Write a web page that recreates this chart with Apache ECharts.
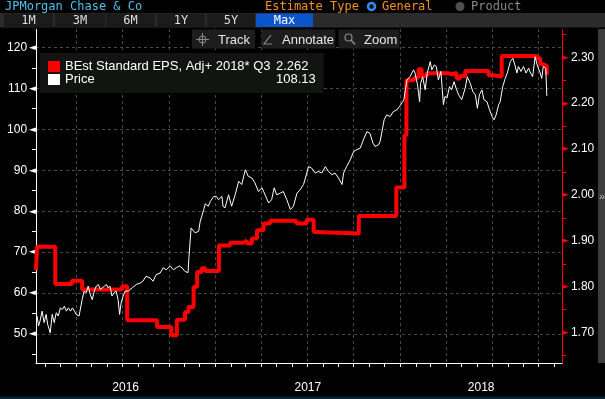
<!DOCTYPE html>
<html>
<head>
<meta charset="utf-8">
<script src="https://cdn.jsdelivr.net/npm/echarts@6/dist/echarts.min.js"></script>
<style>
html, body { margin: 0; padding: 0; background: #000; }
#chart { width: 605px; height: 399px; }
</style>
</head>
<body>
<div id="chart"></div>
<script>
// BEst EPS estimate (right axis): value holds from its date until the next change
const epsName = 'BEst Standard EPS, Adj+ 2018* Q3'
const epsSteps = [
  ['2016-01-13', 1.836], ['2016-01-15', 1.887], ['2016-02-20', 1.806], ['2016-03-24', 1.813],
  ['2016-04-13', 1.794], ['2016-07-01', 1.801], ['2016-07-11', 1.727], ['2016-09-08', 1.712],
  ['2016-10-06', 1.694], ['2016-10-17', 1.728], ['2016-11-02', 1.745], ['2016-11-09', 1.756],
  ['2016-11-19', 1.800], ['2016-11-26', 1.832], ['2016-12-05', 1.840], ['2016-12-12', 1.834],
  ['2017-01-08', 1.890], ['2017-01-30', 1.896], ['2017-02-25', 1.900], ['2017-03-04', 1.894],
  ['2017-03-14', 1.905], ['2017-03-24', 1.923], ['2017-04-06', 1.938], ['2017-04-19', 1.944],
  ['2017-06-10', 1.938], ['2017-06-30', 1.946], ['2017-07-14', 1.919], ['2017-07-19', 1.916],
  ['2017-10-11', 1.954], ['2017-12-24', 2.016], ['2018-01-09', 2.130], ['2018-01-13', 2.250],
  ['2018-01-27', 2.252], ['2018-01-30', 2.256], ['2018-02-06', 2.274], ['2018-02-12', 2.259],
  ['2018-02-22', 2.265], ['2018-04-06', 2.263], ['2018-04-13', 2.266], ['2018-04-22', 2.254],
  ['2018-04-29', 2.259], ['2018-05-09', 2.270], ['2018-06-24', 2.261], ['2018-07-03', 2.258],
  ['2018-07-20', 2.303], ['2018-09-27', 2.298], ['2018-10-04', 2.285], ['2018-10-10', 2.281],
  ['2018-10-17', 2.262],
]

// share price (left axis)
const priceName = 'Price'
const pricePoints = [
  ['2016-01-15', 54.4], ['2016-01-18', 52.0], ['2016-01-21', 53.2], ['2016-01-25', 55.6],
  ['2016-01-29', 52.8], ['2016-02-02', 54.8], ['2016-02-05', 52.4], ['2016-02-10', 50.3],
  ['2016-02-14', 54.8], ['2016-02-18', 52.8], ['2016-02-22', 55.2], ['2016-02-26', 54.4],
  ['2016-03-01', 56.4], ['2016-03-05', 56.0], ['2016-03-09', 56.8], ['2016-03-13', 55.6],
  ['2016-03-17', 56.4], ['2016-03-21', 55.6], ['2016-03-25', 56.4], ['2016-03-29', 55.6],
  ['2016-04-01', 54.8], ['2016-04-07', 54.4], ['2016-04-13', 58.4], ['2016-04-17', 60.5],
  ['2016-04-21', 60.1], ['2016-04-25', 61.7], ['2016-04-29', 59.7], ['2016-05-03', 58.4],
  ['2016-05-07', 60.5], ['2016-05-11', 61.7], ['2016-05-15', 62.1], ['2016-05-19', 60.9],
  ['2016-05-23', 61.3], ['2016-05-27', 61.7], ['2016-05-31', 62.1], ['2016-06-03', 61.3],
  ['2016-06-07', 61.7], ['2016-06-11', 59.3], ['2016-06-15', 60.1], ['2016-06-19', 60.5],
  ['2016-06-23', 58.4], ['2016-06-26', 54.8], ['2016-06-29', 57.6], ['2016-07-03', 59.3],
  ['2016-07-07', 60.5], ['2016-07-13', 60.5], ['2016-07-21', 61.3], ['2016-07-29', 62.1],
  ['2016-08-06', 62.5], ['2016-08-11', 62.9], ['2016-08-17', 64.1], ['2016-08-25', 63.7],
  ['2016-08-31', 62.9], ['2016-09-06', 64.5], ['2016-09-14', 64.9], ['2016-09-20', 66.2],
  ['2016-09-26', 65.7], ['2016-10-04', 66.6], ['2016-10-10', 65.7], ['2016-10-16', 66.2],
  ['2016-10-22', 66.6], ['2016-10-27', 66.2], ['2016-11-02', 65.3], ['2016-11-08', 65.0],
  ['2016-11-10', 69.0], ['2016-11-14', 75.9], ['2016-11-16', 76.3], ['2016-11-22', 74.7],
  ['2016-11-29', 75.1], ['2016-12-02', 77.5], ['2016-12-05', 78.7], ['2016-12-09', 80.4],
  ['2016-12-12', 81.8], ['2016-12-18', 81.2], ['2016-12-22', 82.4], ['2016-12-25', 82.8],
  ['2016-12-29', 83.6], ['2017-01-03', 83.6], ['2017-01-07', 82.8], ['2017-01-14', 83.6],
  ['2017-01-16', 81.2], ['2017-01-20', 80.8], ['2017-01-27', 84.0], ['2017-02-02', 81.2],
  ['2017-02-09', 84.0], ['2017-02-16', 87.3], ['2017-02-22', 86.5], ['2017-03-01', 90.1],
  ['2017-03-07', 88.5], ['2017-03-14', 88.1], ['2017-03-20', 86.9], ['2017-03-27', 84.8],
  ['2017-04-03', 85.7], ['2017-04-09', 84.0], ['2017-04-16', 82.0], ['2017-04-22', 82.8],
  ['2017-04-27', 85.7], ['2017-05-02', 84.0], ['2017-05-09', 84.4], ['2017-05-15', 84.8],
  ['2017-05-22', 82.8], ['2017-05-29', 80.4], ['2017-06-04', 81.2], ['2017-06-11', 84.4],
  ['2017-06-17', 85.2], ['2017-06-24', 86.5], ['2017-07-04', 90.9], ['2017-07-10', 90.5],
  ['2017-07-17', 89.3], ['2017-07-23', 89.7], ['2017-07-30', 89.3], ['2017-08-06', 90.9],
  ['2017-08-12', 89.7], ['2017-08-19', 88.9], ['2017-08-25', 89.3], ['2017-09-01', 88.1],
  ['2017-09-08', 86.5], ['2017-09-11', 89.3], ['2017-09-17', 90.9], ['2017-09-24', 92.5],
  ['2017-10-01', 94.6], ['2017-10-07', 95.0], ['2017-10-14', 95.4], ['2017-10-20', 97.4],
  ['2017-10-27', 99.4], ['2017-11-02', 99.0], ['2017-11-08', 96.6], ['2017-11-12', 95.8],
  ['2017-11-19', 96.2], ['2017-11-22', 97.0], ['2017-11-25', 96.6], ['2017-11-30', 102.3],
  ['2017-12-05', 103.5], ['2017-12-12', 103.1], ['2017-12-18', 104.3], ['2017-12-25', 104.7],
  ['2017-12-30', 105.5], ['2018-01-04', 106.4], ['2018-01-08', 107.2], ['2018-01-14', 112.0],
  ['2018-01-20', 112.8], ['2018-01-27', 114.5], ['2018-01-30', 113.7], ['2018-02-04', 110.8],
  ['2018-02-08', 106.7], ['2018-02-10', 111.2], ['2018-02-14', 112.8], ['2018-02-19', 109.6],
  ['2018-02-23', 113.7], ['2018-03-01', 116.5], ['2018-03-04', 114.5], ['2018-03-09', 115.7],
  ['2018-03-13', 115.3], ['2018-03-17', 112.0], ['2018-03-22', 114.1], ['2018-03-27', 106.0],
  ['2018-03-30', 108.0], ['2018-04-03', 107.6], ['2018-04-08', 110.4], ['2018-04-12', 109.6],
  ['2018-04-17', 111.6], ['2018-04-21', 110.0], ['2018-04-26', 108.4], ['2018-05-02', 107.2],
  ['2018-05-09', 110.0], ['2018-05-13', 112.8], ['2018-05-19', 111.2], ['2018-05-24', 109.2],
  ['2018-05-29', 108.4], ['2018-06-02', 105.1], ['2018-06-06', 108.4], ['2018-06-11', 109.6],
  ['2018-06-15', 107.2], ['2018-06-21', 106.7], ['2018-06-26', 104.7], ['2018-07-01', 103.1],
  ['2018-07-05', 102.3], ['2018-07-09', 103.5], ['2018-07-14', 106.0], ['2018-07-17', 106.7],
  ['2018-07-22', 110.4], ['2018-07-27', 112.4], ['2018-07-31', 113.7], ['2018-08-06', 116.5],
  ['2018-08-11', 117.3], ['2018-08-15', 115.7], ['2018-08-19', 113.7], ['2018-08-22', 115.3],
  ['2018-08-27', 114.1], ['2018-09-01', 115.3], ['2018-09-06', 113.7], ['2018-09-11', 114.9],
  ['2018-09-15', 113.7], ['2018-09-19', 112.8], ['2018-09-24', 117.7], ['2018-09-28', 115.7],
  ['2018-10-04', 113.7], ['2018-10-07', 112.4], ['2018-10-10', 115.3], ['2018-10-15', 114.9],
  ['2018-10-17', 108.13],
]

const leftLabels = [50, 60, 70, 80, 90, 100, 110, 120]
const leftTicks = [45, 50, 55, 60, 65, 70, 75, 80, 85, 90, 95, 100, 105, 110, 115, 120]
const rightLabels = [1.7, 1.8, 1.9, 2.0, 2.1, 2.2, 2.3]
const rightTicks = [1.65, 1.7, 1.75, 1.8, 1.85, 1.9, 1.95, 2.0, 2.05, 2.1, 2.15, 2.2, 2.25, 2.3, 2.35]
const yearLabels = [2016, 2017, 2018]
const rangeButtons = ['1M', '3M', '6M', '1Y', '5Y', 'Max']

function toTime(s) {
  const [y, m, d] = s.split('-').map(Number)
  return new Date(y, m - 1, d).getTime()
}

const axisStart = toTime('2016-01-13')
const axisEnd = toTime('2018-11-16')
const priceRange = [42.94, 124.46]
const epsRange = [1.6337, 2.3617]

const sans = '"Liberation Sans", Arial, sans-serif'
const mono = '"DejaVu Sans Mono", monospace'

// month starts for the small ticks, quarter starts for the grid, Jan 1 for year separators
const monthTicks = []
const quarterLines = []
for (let y = 2016; y <= 2018; y++) {
  for (let m = 0; m < 12; m++) {
    const t = new Date(y, m, 1).getTime()
    if (t < axisStart || t > axisEnd) continue
    monthTicks.push(t)
    if (m % 3 === 0) quarterLines.push(t)
  }
}
const yearStarts = yearLabels.slice(1).map((y) => new Date(y, 0, 1).getTime())
// year names sit in the middle of the visible part of each year
const yearCentres = yearLabels.map((y) => {
  const a = Math.max(axisStart, new Date(y, 0, 1).getTime())
  const b = Math.min(axisEnd, new Date(y + 1, 0, 1).getTime())
  return (a + b) / 2
})

const epsLast = epsSteps[epsSteps.length - 1][1].toFixed(3)
const priceLast = pricePoints[pricePoints.length - 1][1].toFixed(2)

function text(x, y, str, fill, font, align) {
  return { type: 'text', x, y, z: 100, style: { text: str, fill, font, align: align || 'left', verticalAlign: 'middle' } }
}
function rect(x, y, w, h, fill, z) {
  return { type: 'rect', z: z || 99, shape: { x, y, width: w, height: h }, style: { fill } }
}

const buttonEdges = [[4, 53], [55, 105], [106, 155], [157, 205], [207, 255], [256, 313]]
const chrome = [
  rect(0, 0, 605, 13, '#000000', 98),
  rect(0, 27, 605, 2, '#000000', 98),
  text(5, 7, 'JPMorgan Chase & Co', '#4ec3ea', '12px ' + mono),
  text(265, 7, 'Estimate Type', '#f7941d', '12px ' + mono),
  { type: 'circle', z: 100, shape: { cx: 371.5, cy: 6.5, r: 3.5 }, style: { fill: '#0a0a0a', stroke: '#2f8fff', lineWidth: 2.5 } },
  text(382, 7, 'General', '#f7941d', '12px ' + mono),
  { type: 'circle', z: 100, shape: { cx: 460, cy: 6.5, r: 4.5 }, style: { fill: '#505050' } },
  text(471, 7, 'Product', '#8a8a8a', '12px ' + mono),
  rect(0, 13, 605, 14.5, '#2b2b2b'),
  ...rangeButtons.flatMap((label, i) => {
    const [a, b] = buttonEdges[i]
    const on = label === 'Max'
    return [
      rect(a, 13.5, b - a, 13.5, on ? '#0a55c8' : '#1b1b1b'),
      text((a + b) / 2, 20.5, label, on ? '#ffffff' : '#dddddd', '12px ' + mono, 'center'),
    ]
  }),
  rect(192, 29.5, 63, 19, '#1d1d1d'),
  rect(261.5, 29.5, 73.5, 19, '#1d1d1d'),
  rect(338.5, 29.5, 61, 19, '#1d1d1d'),
  { type: 'circle', z: 100, shape: { cx: 202.5, cy: 39.5, r: 3.5 }, style: { fill: 'none', stroke: '#8a8a8a', lineWidth: 1 } },
  { type: 'line', z: 100, shape: { x1: 196, y1: 39.5, x2: 209, y2: 39.5 }, style: { stroke: '#8a8a8a', lineWidth: 1 } },
  { type: 'line', z: 100, shape: { x1: 202.5, y1: 33, x2: 202.5, y2: 46 }, style: { stroke: '#8a8a8a', lineWidth: 1 } },
  text(218, 40, 'Track', '#e6e6e6', '13px ' + sans),
  { type: 'polyline', z: 100, shape: { points: [[271, 35], [264, 44], [272, 44]] }, style: { fill: 'none', stroke: '#8a8a8a', lineWidth: 1.2 } },
  text(282, 40, 'Annotate', '#e6e6e6', '13px ' + sans),
  { type: 'circle', z: 100, shape: { cx: 348.5, cy: 37.5, r: 3.5 }, style: { fill: 'none', stroke: '#8a8a8a', lineWidth: 1.2 } },
  { type: 'line', z: 100, shape: { x1: 351, y1: 40, x2: 355, y2: 44.5 }, style: { stroke: '#8a8a8a', lineWidth: 1.5 } },
  text(364, 40, 'Zoom', '#e6e6e6', '13px ' + sans),
  rect(598, 29, 7, 334, '#3c3c3c'),
  text(599, 197, '»', '#bbbbbb', '11px ' + sans),
  rect(0, 396.5, 605, 2.5, '#0b2233'),
]

const chart = echarts.init(document.getElementById('chart'), null, { renderer: 'canvas' })

const dashed = { color: '#4a4a4a', width: 1, type: [3, 3] }
const timeAxisBase = { type: 'value', min: axisStart, max: axisEnd, scale: true }

chart.setOption({
  backgroundColor: '#000000',
  animation: false,
  grid: { left: 36, right: 43, top: 29, bottom: 36, containLabel: false, outerBoundsMode: 'none' },
  legend: {
    left: 40,
    top: 53,
    orient: 'vertical',
    icon: 'rect',
    itemWidth: 12,
    itemHeight: 11,
    itemGap: 0,
    padding: [7, 8, 7, 8],
    backgroundColor: '#121412',
    selectedMode: false,
    data: [epsName, priceName],
    formatter: (name) => `{n|${name}}{v|${name === epsName ? epsLast : priceLast}}`,
    textStyle: {
      color: '#ffffff',
      fontFamily: sans,
      fontSize: 13,
      rich: {
        n: { width: 211, color: '#ffffff', fontFamily: sans, fontSize: 13, lineHeight: 16 },
        v: { width: 36, color: '#ffffff', fontFamily: sans, fontSize: 13, lineHeight: 16 },
      },
    },
  },
  xAxis: [
    {
      ...timeAxisBase,
      axisLine: { lineStyle: { color: '#ffffff', width: 1 } },
      axisTick: { show: true, customValues: monthTicks, length: 4, lineStyle: { color: '#ffffff' } },
      axisLabel: {
        customValues: yearCentres,
        margin: 19,
        color: '#ffffff',
        fontFamily: sans,
        fontSize: 12,
        formatter: (v) => String(new Date(v).getFullYear()),
      },
      splitLine: { show: false },
    },
    {
      ...timeAxisBase,
      offset: 17,
      axisLine: { show: false },
      axisTick: { show: true, customValues: yearStarts, length: 17, lineStyle: { color: '#8a8a8a' } },
      axisLabel: { show: false },
      splitLine: { show: false },
    },
    {
      ...timeAxisBase,
      axisLine: { show: false },
      axisTick: { show: false, customValues: quarterLines },
      axisLabel: { show: false },
      splitLine: { show: true, lineStyle: dashed },
    },
  ],
  yAxis: [
    {
      type: 'value',
      position: 'left',
      min: priceRange[0],
      max: priceRange[1],
      axisLine: { show: true, lineStyle: { color: '#ffffff', width: 1 } },
      axisTick: { show: true, customValues: leftTicks, length: 4, lineStyle: { color: '#ffffff' } },
      axisLabel: {
        customValues: leftLabels,
        margin: 0,
        formatter: (v) => `{v|${v}}{t|◄}`,
        rich: {
          v: { color: '#ffffff', fontFamily: sans, fontSize: 12 },
          t: { color: '#ffffff', fontFamily: '"DejaVu Sans"', fontSize: 9, padding: [0, 0, 0, 2] },
        },
      },
      splitLine: { show: false },
    },
    {
      type: 'value',
      position: 'right',
      min: epsRange[0],
      max: epsRange[1],
      axisLine: { show: true, lineStyle: { color: '#ff0000', width: 1 } },
      axisTick: { show: true, customValues: rightTicks, length: 4, lineStyle: { color: '#ff0000' } },
      axisLabel: {
        customValues: rightLabels,
        margin: 0,
        formatter: (v) => `{t|►}{v|${v.toFixed(2)}}`,
        rich: {
          v: { color: '#ffffff', fontFamily: sans, fontSize: 12, padding: [0, 0, 0, 2] },
          t: { color: '#ff0000', fontFamily: '"DejaVu Sans"', fontSize: 9 },
        },
      },
      splitLine: { show: false },
    },
    {
      type: 'value',
      position: 'left',
      min: priceRange[0],
      max: priceRange[1],
      axisLine: { show: false },
      axisTick: { show: false, customValues: leftLabels },
      axisLabel: { show: false },
      splitLine: { show: true, lineStyle: dashed },
    },
  ],
  series: [
    {
      name: epsName,
      type: 'line',
      xAxisIndex: 0,
      yAxisIndex: 1,
      step: 'end',
      symbol: 'none',
      data: epsSteps.map(([d, v]) => [toTime(d), v]),
      color: '#ff0000',
      lineStyle: { color: '#ff0000', width: 4 },
      z: 3,
    },
    {
      name: priceName,
      type: 'line',
      xAxisIndex: 0,
      yAxisIndex: 0,
      symbol: 'none',
      data: pricePoints.map(([d, v]) => [toTime(d), v]),
      color: '#ffffff',
      lineStyle: { color: '#ffffff', width: 1 },
      z: 4,
    },
  ],
  graphic: chrome,
})
</script>
</body>
</html>
